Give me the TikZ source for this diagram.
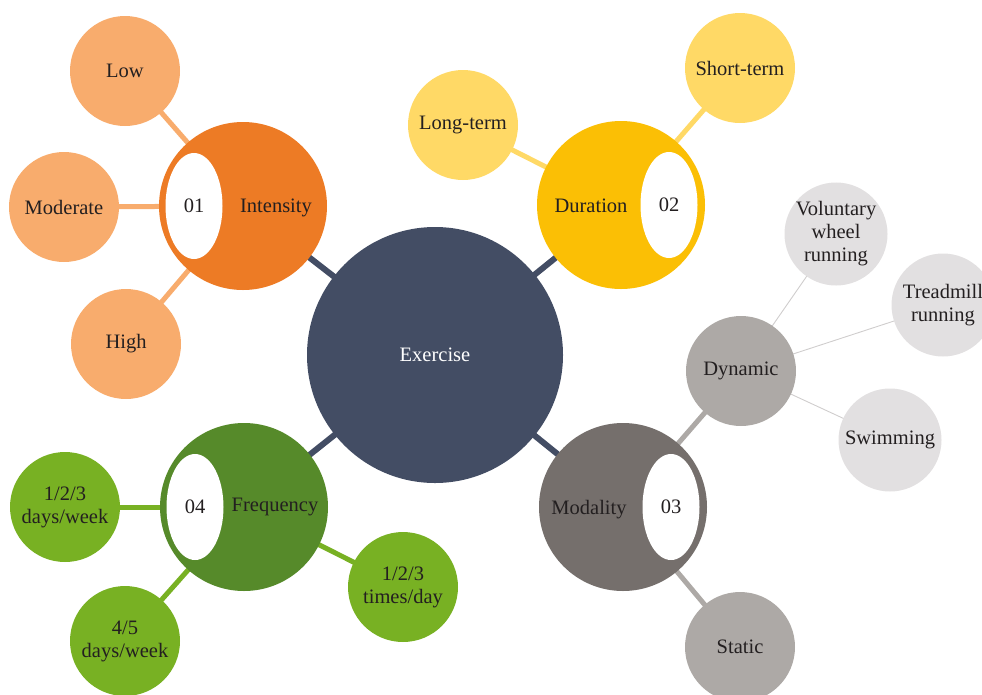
\documentclass[tikz,border=0pt]{standalone}
\usepackage{fontspec}
\setmainfont{Liberation Serif}
\usetikzlibrary{shapes.geometric,backgrounds}
\definecolor{hubcol}{HTML}{434D64}
\definecolor{intcol}{HTML}{ED7B25}
\definecolor{intleaf}{HTML}{F8AC6D}
\definecolor{durcol}{HTML}{FBBF05}
\definecolor{durleaf}{HTML}{FFD966}
\definecolor{modcol}{HTML}{756F6C}
\definecolor{modleaf}{HTML}{ADA9A6}
\definecolor{dynleaf}{HTML}{E2E0E1}
\definecolor{freqcol}{HTML}{568A2A}
\definecolor{freqleaf}{HTML}{78B123}
\definecolor{thincol}{HTML}{CFCDCD}
\definecolor{inkcol}{HTML}{231F20}
\tikzset{
    hub/.style={
        circle,
        fill=hubcol,
        minimum size=256pt,
        inner sep=0pt,
        text=white
    },
    category/.style={
        circle,
        minimum size=168pt,
        inner sep=0pt
    },
    numbox/.style={
        ellipse,
        fill=white,
        minimum width=57pt,
        minimum height=106pt,
        inner sep=0pt,
        text=inkcol
    },
    catlabel/.style={text=inkcol, inner sep=0pt},
    leaf/.style={
        circle,
        minimum size=110pt,
        inner sep=0pt,
        align=center,
        text=inkcol
    },
    subleaf/.style={
        circle,
        fill=dynleaf,
        minimum size=103pt,
        inner sep=0pt,
        align=center,
        text=inkcol
    },
    hubline/.style={draw=hubcol, line width=6pt},
    leafline/.style={line width=5pt},
    thinline/.style={draw=thincol, line width=0.9pt}
}

\begin{document}
\begin{tikzpicture}[x=1pt,y=-1pt,font=\fontsize{20.5}{23}\selectfont]
    \useasboundingbox (0,0) rectangle (982,694);

    \node[hub] (exercise) at (435,355) {Exercise};

    % -- Categories -- %
    \node[category, fill=intcol] (intensity) at (243,206) {};
    \node[numbox] (intensityN) at ([xshift=-49pt]intensity.center) {01};
    \node[catlabel] (intensityL) at ([xshift=33pt,yshift=-2pt]intensity.center) {Intensity};

    \node[category, fill=durcol] (duration) at (621,205) {};
    \node[numbox] (durationN) at ([xshift=48pt]duration.center) {02};
    \node[catlabel] (durationL) at ([xshift=-30pt,yshift=-1pt]duration.center) {Duration};

    \node[category, fill=modcol] (modality) at (623,507) {};
    \node[numbox] (modalityN) at ([xshift=48pt]modality.center) {03};
    \node[catlabel] (modalityL) at ([xshift=-34pt,yshift=-3pt]modality.center) {Modality};

    \node[category, fill=freqcol] (frequency) at (244,507) {};
    \node[numbox] (frequencyN) at ([xshift=-49pt]frequency.center) {04};
    \node[catlabel] (frequencyL) at ([xshift=31pt]frequency.center) {Frequency};

    % -- Leaves -- %
    \node[leaf, fill=intleaf] (low) at (125,71) {Low};
    \node[leaf, fill=intleaf] (moderate) at (64,207) {Moderate};
    \node[leaf, fill=intleaf] (high) at (126,344) {High};

    \node[leaf, fill=durleaf] (longterm) at (463,125) {Long-term};
    \node[leaf, fill=durleaf] (shortterm) at (740,68) {Short-term};

    \node[leaf, fill=modleaf] (dynamic) at (741,371) {Dynamic};
    \node[leaf, fill=modleaf] (static) at (740,647) {Static};

    \node[subleaf] (wheel) at (836,234) {Voluntary\\wheel\\running};
    \node[subleaf] (treadmill) at (943,305) {Treadmill\\running};
    \node[subleaf] (swimming) at (890,440) {Swimming};

    \node[leaf, fill=freqleaf] (daysweek) at (65,507) {1/2/3\\days/week};
    \node[leaf, fill=freqleaf] (fourfive) at (125,641) {4/5\\days/week};
    \node[leaf, fill=freqleaf] (timesday) at (403,587) {1/2/3\\times/day};

    % -- Connectors -- %
    \begin{scope}[on background layer]
        \foreach \cat in {intensity,duration,modality,frequency}
            \draw[hubline] (exercise.center) -- (\cat.center);
        \foreach \lf in {low,moderate,high}
            \draw[leafline, draw=intleaf] (intensity.center) -- (\lf.center);
        \foreach \lf in {longterm,shortterm}
            \draw[leafline, draw=durleaf] (duration.center) -- (\lf.center);
        \foreach \lf in {dynamic,static}
            \draw[leafline, draw=modleaf] (modality.center) -- (\lf.center);
        \foreach \lf in {daysweek,fourfive,timesday}
            \draw[leafline, draw=freqleaf] (frequency.center) -- (\lf.center);
        \foreach \lf in {wheel,treadmill,swimming}
            \draw[thinline] (dynamic.center) -- (\lf.center);
    \end{scope}
\end{tikzpicture}
\end{document}
